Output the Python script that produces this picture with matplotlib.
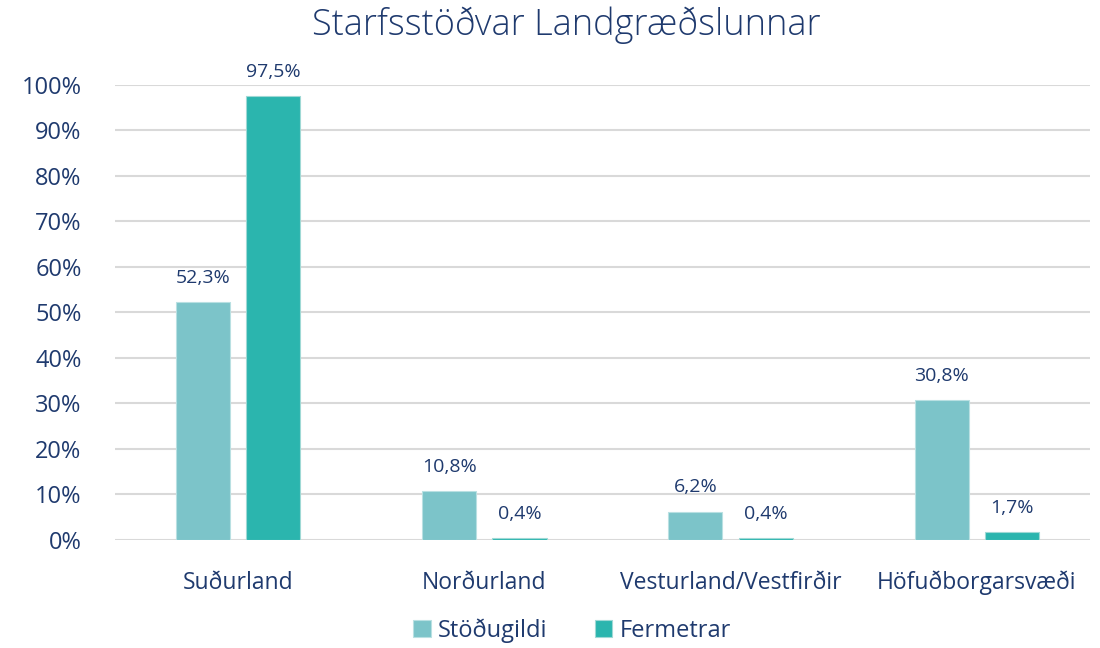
import matplotlib.pyplot as plt
import numpy as np

categories = ["Suðurland", "Norðurland", "Vesturland/Vestfirðir", "Höfuðborgarsvæði"]
stodugildi = [52.3, 10.8, 6.2, 30.8]
fermetrar = [97.5, 0.4, 0.4, 1.7]
series_names = ["Stöðugildi", "Fermetrar"]

navy = "#1F3A6E"
light = "#7CC4C9"
dark = "#2BB5AE"
grid = "#D9D9D9"

plt.rcParams['font.family'] = ['Open Sans', 'DejaVu Sans']

fig = plt.figure(figsize=(11, 6.48), dpi=100)
ax = fig.add_axes([0.1045, 0.1667, 0.8865, 0.7023])

x = np.arange(len(categories))
w = 0.22
off = 0.143
b1 = ax.bar(x - off, stodugildi, w, color=light, edgecolor="#B9E0E2", linewidth=0.8,
            label=series_names[0], zorder=3)
b2 = ax.bar(x + off, fermetrar, w, color=dark, edgecolor="#9FD9D5", linewidth=0.8,
            label=series_names[1], zorder=3)

## data labels with comma decimals
for bars, vals in ((b1, stodugildi), (b2, fermetrar)):
    for rect, v in zip(bars, vals):
        ax.annotate(f"{v:.1f}%".replace(".", ","),
                    (rect.get_x() + rect.get_width() / 2, v),
                    xytext=(0, 11), textcoords="offset points",
                    ha="center", va="bottom", fontsize=14, color=navy)

ax.set_xlim(-0.5, len(categories) - 0.54)
ax.set_ylim(0, 100)
ax.set_yticks(np.arange(0, 101, 10))
ax.set_yticklabels([f"{t}%" for t in range(0, 101, 10)], fontsize=17, color=navy)
ax.set_xticks(x)
ax.set_xticklabels(categories, fontsize=16.5, color=navy)
ax.tick_params(axis="both", length=0)
ax.tick_params(axis="y", pad=24)
ax.tick_params(axis="x", pad=22)
ax.yaxis.grid(True, color=grid, linewidth=1.5, zorder=0)
ax.set_axisbelow(True)
for s in ax.spines.values():
    s.set_visible(False)

fig.suptitle("Starfsstöðvar Landgræðslunnar", fontsize=26, color=navy, y=0.99,
             x=0.515, fontweight="light")

leg = fig.legend(loc="lower center", bbox_to_anchor=(0.52, -0.025), ncol=2, frameon=False,
                 fontsize=17, handlelength=0.75, handleheight=0.75, handletextpad=0.3,
                 columnspacing=2.0)
for t in leg.get_texts():
    t.set_color(navy)

fig.savefig("out.png", dpi=100)
